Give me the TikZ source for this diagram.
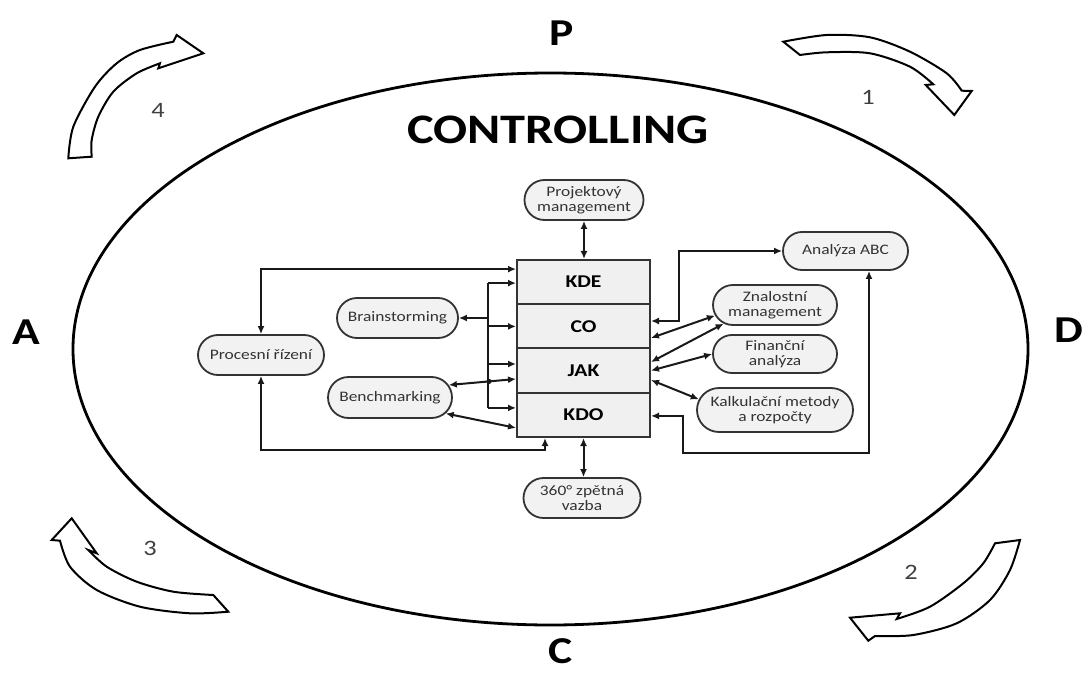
\documentclass[tikz,border=0pt]{standalone}
\usepackage{fontspec}
\setmainfont{Carlito}[FakeStretch=1.2]
\usetikzlibrary{shapes.misc,arrows.meta}
\begin{document}
\begin{tikzpicture}[x=1pt,y=-1pt,
  pill/.style={rounded rectangle, draw=black!80, line width=1.8pt, fill=gray!10, inner sep=0pt, align=center, font=\fontsize{14.5}{15}\selectfont, text=black!80},
  stackbox/.style={rectangle, draw=black!80, line width=2pt, fill=gray!12, minimum width=133pt, minimum height=44.25pt, inner sep=0pt, font=\fontsize{18}{20}\selectfont\bfseries},
  conn/.style={line width=2pt, draw=black!90},
  >={Latex[length=8pt,width=7pt]},
  blockarrow/.style={draw=black, line width=2pt, fill=white, line join=miter},
  bigletter/.style={font=\fontsize{38}{40}\selectfont\bfseries, inner sep=0pt},
  num/.style={font=\fontsize{22}{24}\selectfont, text=black!75, inner sep=0pt}]
\useasboundingbox (0,0) rectangle (1084,674);

% main ellipse
\draw[line width=2.8pt] (550.5,349) ellipse [x radius=477.5pt, y radius=276pt];

% letters
\node[bigletter] (P) at (562,33) {P};
\node[bigletter] (A) at (26,332) {A};
\node[bigletter, anchor=west] (D) at (1054,330) {D};
\node[bigletter] (C) at (561,651) {C};
\node[font=\fontsize{42}{44}\selectfont\bfseries, inner sep=0pt] (title) at (558,130) {CONTROLLING};

% numbers
\node[num] (n1) at (868,97) {1};
\node[num] (n2) at (911,572) {2};
\node[num] (n3) at (150,548) {3};
\node[num] (n4) at (158,110) {4};

% curved block arrows
\draw[blockarrow] plot[smooth] coordinates {(783.3,41.7) (826.7,35) (870,37.3) (910,51.7) (946.7,73.3) (961.7,90.7)}
  -- (971.7,91) -- (954.3,115) -- (925.7,85) -- (933.3,84.3)
  -- plot[smooth] coordinates {(933.3,84.3) (910,66.7) (870,53.3) (826.7,52.3) (800,55)} -- cycle;
\draw[blockarrow] plot[smooth] coordinates {(68.3,158.3) (73.3,126.7) (95,86.7) (116.7,63.3) (140,50) (173.3,41.7)}
  -- (176.7,35) -- (203.3,53.3) -- (158.3,68.3) -- (160,63.3)
  -- plot[smooth] coordinates {(160,63.3) (136.7,73.3) (113.3,91.7) (98.3,116.7) (91.7,140) (91.7,156.7)} -- cycle;
\draw[blockarrow] (71.7,518.3) -- (51.7,540) -- (60,540.7)
  -- plot[smooth] coordinates {(60,540.7) (70,566.7) (96.7,590) (140,606.7) (190,613.3) (228.3,611.7)}
  -- (213.3,595)
  -- plot[smooth] coordinates {(213.3,595) (173.3,591.7) (136.7,581.7) (106.7,566.7) (88.3,550)}
  -- (96.7,553.3) -- cycle;
\draw[blockarrow] (995,543.3) -- (1020,540)
  -- plot[smooth] coordinates {(1020,540) (1010,570) (990,600) (956.7,623.3) (913.3,635) (875,636)}
  -- (868.3,640.7) -- (850,617.7) -- (900,613.3) -- (896.7,619)
  -- plot[smooth] coordinates {(896.7,619) (930,606.7) (963.3,583.3) (983.3,563.3) (995,543.3)} -- cycle;

% central stack
\node[stackbox] (KDE) at (583.5,282.1) {KDE};
\node[stackbox] (CO)  at (583.5,326.4) {CO};
\node[stackbox] (JAK) at (583.5,370.6) {JAK};
\node[stackbox] (KDO) at (583.5,414.9) {KDO};

% pills
\node[pill, minimum width=119pt, minimum height=40pt] (Proj) at (584,200) {Projektový\\management};
\node[pill, minimum width=125pt, minimum height=38pt] (ABC) at (845.5,251) {Analýza ABC};
\node[pill, minimum width=124pt, minimum height=40pt] (Znal) at (775,305) {Znalostní\\management};
\node[pill, minimum width=124pt, minimum height=38pt] (Fin) at (775,354) {Finanční\\analýza};
\node[pill, minimum width=156pt, minimum height=44pt] (Kalk) at (775,410) {Kalkulační metody\\a rozpočty};
\node[pill, minimum width=121pt, minimum height=40pt] (Brain) at (397.5,318) {Brainstorming};
\node[pill, minimum width=126pt, minimum height=40pt] (Proc) at (261,355) {Procesní řízení};
\node[pill, minimum width=124pt, minimum height=41pt] (Bench) at (390,397.5) {Benchmarking};
\node[pill, minimum width=117pt, minimum height=40pt] (Z360) at (582,498) {360° zpětná\\vazba};

% left connectors
\draw[conn,<->] (Proc.north) |- ([yshift=13pt]KDE.west);
\draw[conn,<->] (Proc.south) |- ([xshift=-38.5pt,yshift=-12pt]KDO.south) -- ([xshift=-38.5pt]KDO.south);
\coordinate (busT) at ([xshift=-28pt,yshift=-1pt]KDE.west);
\coordinate (busB) at ([xshift=-28pt,yshift=7pt]KDO.west);
\coordinate (jakL) at ([yshift=6.6pt]JAK.west);
\coordinate (kdoL) at ([yshift=7pt]KDO.west);
\draw[conn] (busT) -- (busB);
\draw[conn,->] (busT) -- ([yshift=-1pt]KDE.west);
\draw[conn,->] (busT |- CO.west) -- (CO.west);
\draw[conn,->] (jakL -| busT) -- (jakL);
\draw[conn,->] (busB) -- (kdoL);
\draw[conn,->,line width=2.8pt] (Brain.east -| busT) -- (Brain.east);
\draw[conn,<->] (Bench.12) -- ([yshift=-8.4pt]JAK.west);
\draw[conn,<->] (Bench.-16) -- ([yshift=-13pt]KDO.west);
\fill[black!90] (489,381.4) circle (2.6pt);

% right connectors
\draw[conn,<->] ([yshift=5.4pt]CO.east) -- ++(28,0) |- (ABC.west);
\draw[conn,<->] ([yshift=-1pt]KDO.east) -- ++(32,0) -- ++(0,37) -| ([xshift=23.5pt]ABC.south);
\draw[conn,<->] ([yshift=-11.6pt]CO.east) -- (Znal.190);
\draw[conn,<->] ([yshift=8.6pt]JAK.east) -- (Znal.200);
\draw[conn,<->] (JAK.east) -- (Fin.west);
\draw[conn,<->] ([yshift=-9.4pt]JAK.east) -- (Kalk.172);

% top / bottom
\draw[conn,<->] (Proj.south) -- (Proj.south |- KDE.north);
\draw[conn,<->] (KDO.south) -- (KDO.south |- Z360.north);
\end{tikzpicture}
\end{document}
